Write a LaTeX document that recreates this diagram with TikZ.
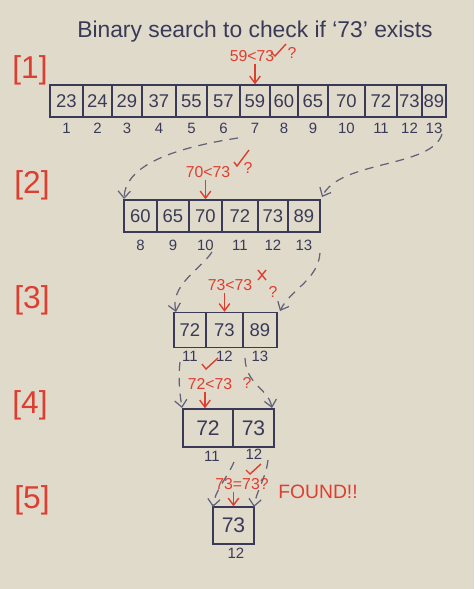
\documentclass[tikz,border=0pt]{standalone}
\usepackage{fontspec}
\setmainfont{Liberation Sans}
\usetikzlibrary{arrows.meta}
\definecolor{paper}{RGB}{224,218,203}
\definecolor{ink}{RGB}{58,58,88}
\definecolor{redink}{RGB}{222,62,48}
\tikzset{
  cell/.style={draw=ink, line width=0.8pt, inner sep=0pt, minimum height=0.64cm, text=ink, font=\fontsize{10.5}{11}\selectfont},
  idx/.style={text=ink, font=\fontsize{8.5}{9}\selectfont, inner sep=1pt},
  steplabel/.style={text=redink, font=\fontsize{18}{18}\selectfont},
  cmp/.style={text=redink, font=\fontsize{9}{9}\selectfont, inner sep=1pt},
  redarrow/.style={draw=redink, line width=0.8pt, -{Straight Barb[length=4pt,width=6pt]}},
  jump/.style={draw=ink!80, line width=0.7pt, dashed, dash pattern=on 5pt off 4pt, -{Straight Barb[length=4pt,width=7pt]}},
  tick/.style={draw=redink, line width=0.8pt}
}
\begin{document}
\begin{tikzpicture}[x=0.02cm,y=-0.02cm]
\fill[paper] (0,0) rectangle (474,589);
\useasboundingbox (0,0) rectangle (474,589);

\node[text=ink, font=\fontsize{13}{13}\selectfont] (title) at (255,32) {Binary search to check if `73' exists};

% step labels
\node[steplabel] (s1) at (30,70) {[1]};
\node[steplabel] (s2) at (32,185) {[2]};
\node[steplabel] (s3) at (32,300) {[3]};
\node[steplabel] (s4) at (30,405) {[4]};
\node[steplabel] (s5) at (32,500) {[5]};

% array 1
\foreach \l/\r/\v/\i in {50/83/23/1,83/112/24/2,112/142/29/3,142/176/37/4,176/207/55/5,207/240/57/6,240/270/59/7,270/298/60/8,298/328/65/9,328/365/70/10,365/397/72/11,397/422/73/12,422/446/89/13}{
  \pgfmathsetmacro\w{(\r-\l)*0.02}
  \node[cell, minimum width=\w cm] (A\i) at ({(\l+\r)/2},101) {\v};
  \node[idx] (iA\i) at ({(\l+\r)/2},128) {\i};
}
% array 2
\foreach \l/\r/\v/\i in {124/157/60/8,157/189/65/9,189/222/70/10,222/258/72/11,258/288/73/12,288/320/89/13}{
  \pgfmathsetmacro\w{(\r-\l)*0.02}
  \node[cell, minimum width=\w cm] (B\i) at ({(\l+\r)/2},216) {\v};
  \node[idx] (iB\i) at ({(\l+\r)/2},245) {\i};
}
% array 3
\foreach \l/\r/\v/\i in {174/206/72/11,206/243/73/12,243/277/89/13}{
  \pgfmathsetmacro\w{(\r-\l)*0.02}
  \node[cell, minimum width=\w cm, minimum height=0.7cm] (C\i) at ({(\l+\r)/2},330) {\v};
  \node[idx] (iC\i) at ({(\l+\r)/2},356) {\i};
}
% array 4
\foreach \l/\r/\v/\i in {183/233/72/11,233/274/73/12}{
  \pgfmathsetmacro\w{(\r-\l)*0.02}
  \node[cell, minimum width=\w cm, minimum height=0.76cm, font=\fontsize{12}{12}\selectfont] (D\i) at ({(\l+\r)/2},428) {\v};
}
\node[idx] (iD11) at (212,456) {11};
\node[idx] (iD12) at (254,454) {12};
% array 5
\node[cell, minimum width=0.82cm, minimum height=0.74cm, font=\fontsize{12}{12}\selectfont] (E12) at (233.5,525.5) {73};
\node[idx] (iE12) at (236,553) {12};

% comparisons
\node[cmp] (q1) at (252,56) {59<73};
\node[cmp] (q1m) at (292,53) {?};
\draw[tick] (271,52) -- (275,56) -- (286,44);
\draw[redarrow] (q1.south -| A7.north) -- (A7.north);

\node[cmp] (q2) at (208,172) {70<73};
\node[cmp] (q2m) at (248,168) {?};
\draw[tick] (234,162) -- (237,166) -- (249,150);
\draw[redarrow] (q2.south -| B10.north) -- (B10.north);

\node[cmp] (q3) at (230,285) {73<73};
\node[cmp] (q3m) at (273,292) {?};
\draw[tick] (258,270) -- (266,280) (266,270) -- (258,280);
\draw[redarrow] (q3.south -| C12.north) -- (C12.north);

\node[cmp] (q4) at (210,384) {72<73};
\node[cmp] (q4m) at (247,383) {?};
\draw[tick] (202,364) -- (206,369) -- (218,358);
\draw[redarrow] (q4.south -| 205,0) -- (D11.north -| 205,0);

\node[cmp] (q5) at (242,484) {73=73?};
\draw[tick] (246,470) -- (250,474) -- (261,464);
\node[text=redink, font=\fontsize{11}{11}\selectfont] (found) at (318,492) {FOUND!!};
\draw[redarrow] (q5.south -| E12.north) -- (E12.north);

% jump connectors
\coordinate (j1a) at (238,138);
\coordinate (j1b) at (124,199);
\coordinate (j1c) at (442,134);
\coordinate (j1d) at (322,197);
\draw[jump] (j1a) .. controls (160,150) and (125,170) .. (j1b);
\draw[jump] (j1c) .. controls (432,168) and (340,160) .. (j1d);

\coordinate (j2a) at (212,252);
\coordinate (j2b) at (176,312);
\coordinate (j2c) at (320,253);
\coordinate (j2d) at (280,311);
\draw[jump] (j2a) .. controls (200,270) and (170,285) .. (j2b);
\draw[jump] (j2c) .. controls (318,280) and (290,290) .. (j2d);

\coordinate (j3a) at (180,362);
\coordinate (j3b) at (182,408);
\coordinate (j3c) at (245,358);
\coordinate (j3d) at (272,408);
\draw[jump] (j3a) .. controls (178,380) and (180,395) .. (j3b);
\draw[jump] (j3c) .. controls (246,385) and (268,388) .. (j3d);

\coordinate (j4a) at (234,462);
\coordinate (j4b) at (213,507);
\coordinate (j4c) at (268,460);
\coordinate (j4d) at (254,507);
\draw[jump] (j4a) .. controls (226,480) and (215,490) .. (j4b);
\draw[jump] (j4c) .. controls (266,478) and (256,492) .. (j4d);
\end{tikzpicture}
\end{document}
